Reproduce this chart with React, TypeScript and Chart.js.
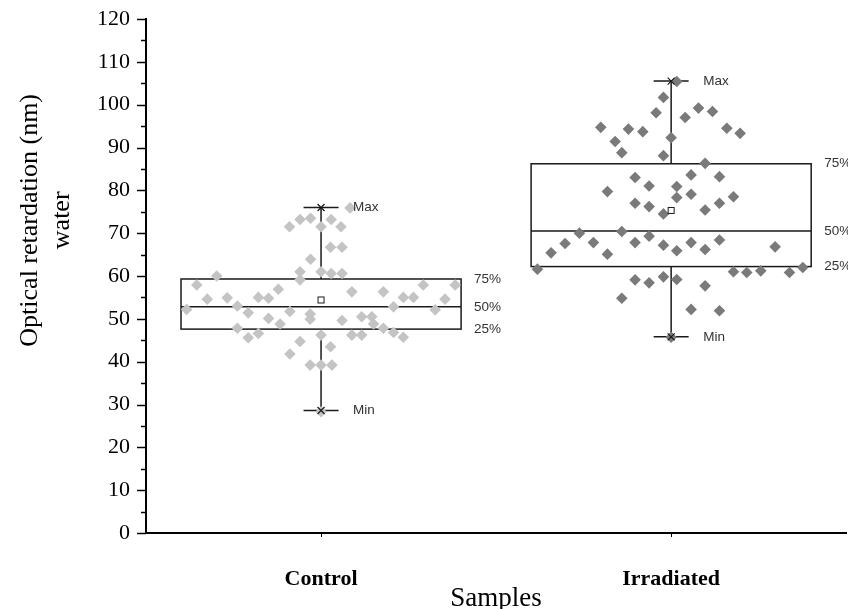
import React, { useEffect, useRef } from 'react';
import { Chart, registerables } from 'chart.js';

Chart.register(...registerables);

const categories = ['Control', 'Irradiated'];
const yTitleLines = ['Optical retardation (nm)', 'water'];
const xTitle = 'Samples';

const controlValues = [
  75.9, 71.5, 73.2, 73.5, 71.5, 73.2, 71.5, 66.7, 66.7, 63.9,
  61.0, 61.0, 60.6, 60.6, 59.1, 60.0, 57.9, 57.9, 57.9, 56.9,
  56.3, 56.3, 54.6, 54.9, 55.0, 54.8, 55.0, 55.0, 54.6, 52.2,
  53.0, 51.4, 51.7, 51.1, 52.8, 52.1, 50.1, 49.9, 48.8, 49.6,
  50.5, 50.5, 48.8, 47.8, 46.8, 45.7, 47.8, 45.6, 46.6, 46.2,
  46.2, 46.2, 44.7, 43.5, 41.8, 39.2, 39.2, 39.2, 28.3,
];
const controlJitter = [
  0.083, -0.090, -0.060, -0.030, 0.000, 0.029, 0.057, 0.027, 0.060, -0.030,
  -0.060, 0.000, 0.029, 0.060, -0.060, -0.298, -0.355, 0.383, 0.292, -0.122,
  0.088, 0.178, -0.325, -0.268, -0.179, -0.150, 0.235, 0.264, 0.354, -0.384,
  -0.239, -0.208, -0.089, -0.031, 0.207, 0.326, -0.150, -0.031, -0.117, 0.060,
  0.116, 0.145, 0.150, 0.178, 0.207, 0.235, -0.239, -0.208, -0.179, 0.088,
  0.116, 0.000, -0.060, 0.027, -0.089, -0.031, 0.000, 0.031, 0.000,
];

const irradiatedValues = [
  105.4, 101.7, 98.1, 97.0, 99.2, 98.4, 94.7, 94.3, 93.7, 94.5,
  93.3, 92.3, 91.4, 88.8, 88.1, 86.3, 83.6, 83.2, 83.0, 81.0,
  80.9, 79.7, 79.1, 78.3, 78.5, 77.0, 77.0, 76.2, 75.4, 74.5,
  70.0, 70.4, 67.6, 67.8, 67.8, 69.3, 67.2, 67.8, 68.4, 65.4,
  65.1, 65.9, 66.2, 66.8, 61.6, 61.0, 60.8, 61.2, 60.8, 62.0,
  59.1, 58.4, 59.8, 59.2, 57.7, 54.8, 52.2, 51.9, 45.7,
];
const irradiatedJitter = [
  0.016, -0.022, -0.043, 0.040, 0.078, 0.118, -0.201, -0.122, -0.081, 0.159,
  0.197, 0.000, -0.160, -0.141, -0.022, 0.097, 0.057, 0.138, -0.103, -0.063,
  0.016, -0.182, 0.057, 0.016, 0.178, -0.103, 0.138, -0.063, 0.097, -0.022,
  -0.262, -0.141, -0.303, -0.222, -0.103, -0.063, -0.022, 0.057, 0.138, -0.343,
  -0.182, 0.016, 0.097, 0.297, -0.382, 0.178, 0.216, 0.256, 0.338, 0.376,
  -0.103, -0.063, -0.022, 0.016, 0.097, -0.141, 0.057, 0.138, 0.000,
];

const boxMin = [28.6, 45.8];
const boxQ1 = [47.6, 62.2];
const boxMedian = [52.8, 70.5];
const boxQ3 = [59.3, 86.2];
const boxMax = [76.0, 105.5];
const boxMean = [54.4, 75.3];
const pointColors = ['rgb(196,196,196)', 'rgb(122,122,122)'];

const serif = '"Liberation Serif", "Times New Roman", serif';
const sans = '"Liberation Sans", Arial, sans-serif';

const boxPlugin = {
  id: 'boxPlot',
  beforeDatasetsDraw(chart: any) {
    const { ctx } = chart;
    const x = chart.scales.x;
    const y = chart.scales.y;
    ctx.save();
    ctx.strokeStyle = '#1a1a1a';
    ctx.lineWidth = 1.5;
    categories.forEach((_c, i) => {
      const cx = x.getPixelForValue(i);
      const hw = x.getPixelForValue(i + 0.4) - cx;
      const cw = x.getPixelForValue(i + 0.05) - cx;
      const p1 = y.getPixelForValue(boxQ1[i]);
      const p3 = y.getPixelForValue(boxQ3[i]);
      const pm = y.getPixelForValue(boxMedian[i]);
      const pmin = y.getPixelForValue(boxMin[i]);
      const pmax = y.getPixelForValue(boxMax[i]);
      ctx.strokeRect(cx - hw, p3, 2 * hw, p1 - p3);
      ctx.beginPath();
      ctx.moveTo(cx - hw, pm);
      ctx.lineTo(cx + hw, pm);
      ctx.moveTo(cx, p3);
      ctx.lineTo(cx, pmax);
      ctx.moveTo(cx, p1);
      ctx.lineTo(cx, pmin);
      ctx.moveTo(cx - cw, pmax);
      ctx.lineTo(cx + cw, pmax);
      ctx.moveTo(cx - cw, pmin);
      ctx.lineTo(cx + cw, pmin);
      ctx.stroke();
    });
    ctx.restore();
  },
  afterDatasetsDraw(chart: any) {
    const { ctx, chartArea } = chart;
    const x = chart.scales.x;
    const y = chart.scales.y;
    ctx.save();
    categories.forEach((_c, i) => {
      const cx = x.getPixelForValue(i);
      const hw = x.getPixelForValue(i + 0.4) - cx;
      const pmin = y.getPixelForValue(boxMin[i]);
      const pmax = y.getPixelForValue(boxMax[i]);
      const pmean = y.getPixelForValue(boxMean[i]);
      ctx.strokeStyle = '#1a1a1a';
      ctx.lineWidth = 1.2;
      [pmin, pmax].forEach((py) => {
        ctx.beginPath();
        ctx.moveTo(cx - 3.5, py - 3.5);
        ctx.lineTo(cx + 3.5, py + 3.5);
        ctx.moveTo(cx + 3.5, py - 3.5);
        ctx.lineTo(cx - 3.5, py + 3.5);
        ctx.stroke();
      });
      ctx.fillStyle = '#ffffff';
      ctx.lineWidth = 1;
      ctx.fillRect(cx - 3, pmean - 3, 6, 6);
      ctx.strokeRect(cx - 3, pmean - 3, 6, 6);
      ctx.fillStyle = '#333333';
      ctx.font = '13.5px ' + sans;
      ctx.textBaseline = 'middle';
      ctx.textAlign = 'left';
      ctx.fillText('Max', cx + 32, pmax);
      ctx.fillText('Min', cx + 32, pmin);
      ctx.fillText('75%', cx + hw + 13, y.getPixelForValue(boxQ3[i]));
      ctx.fillText('50%', cx + hw + 13, y.getPixelForValue(boxMedian[i]));
      ctx.fillText('25%', cx + hw + 13, y.getPixelForValue(boxQ1[i]));
    });
    ctx.strokeStyle = '#000';
    ctx.lineWidth = 1.5;
    for (let v = y.min; v <= y.max; v += 5) {
      const py = Math.round(y.getPixelForValue(v)) + 0.5;
      const len = v % 10 === 0 ? 9 : 5;
      ctx.beginPath();
      ctx.moveTo(chartArea.left - len, py);
      ctx.lineTo(chartArea.left, py);
      ctx.stroke();
    }
    ctx.fillStyle = '#000';
    ctx.font = '26px ' + serif;
    ctx.textAlign = 'center';
    ctx.textBaseline = 'middle';
    const cy = y.getPixelForValue(73);
    yTitleLines.forEach((line, k) => {
      ctx.save();
      ctx.translate(30 + k * 32, cy);
      ctx.rotate(-Math.PI / 2);
      ctx.fillText(line, 0, 0);
      ctx.restore();
    });
    ctx.restore();
  },
};

export default function App() {
  const ref = useRef<HTMLCanvasElement | null>(null);
  useEffect(() => {
    if (!ref.current) return;
    const datasets = [
      {
        label: categories[0],
        data: controlValues.map((v, k) => ({ x: 0 + controlJitter[k], y: v })),
        backgroundColor: pointColors[0],
      },
      {
        label: categories[1],
        data: irradiatedValues.map((v, k) => ({ x: 1 + irradiatedJitter[k], y: v })),
        backgroundColor: pointColors[1],
      },
    ].map((d) => ({
      ...d,
      pointStyle: 'rectRot',
      pointRadius: 5.8,
      pointBorderWidth: 0,
      borderWidth: 0,
      showLine: false,
    }));
    const chart = new Chart(ref.current, {
      type: 'scatter',
      data: { datasets },
      plugins: [boxPlugin],
      options: {
        animation: false,
        responsive: true,
        maintainAspectRatio: false,
        layout: { padding: { top: 19, right: 0, left: 0, bottom: 0 } },
        plugins: { legend: { display: false }, tooltip: { enabled: false } },
        scales: {
          x: {
            type: 'linear',
            min: -0.5,
            max: 1.5,
            afterBuildTicks: (scale: any) => {
              scale.ticks = categories.map((_c, i) => ({ value: i }));
            },
            afterFit: (scale: any) => {
              scale.height = 76;
              scale.paddingLeft = 0;
              scale.paddingRight = 0;
              scale.paddingTop = 0;
              scale.paddingBottom = 0;
            },
            grid: { display: true, drawOnChartArea: false, drawTicks: true, tickLength: 4, color: '#000', lineWidth: 1 },
            border: { display: true, color: '#000', width: 2 },
            ticks: {
              padding: 29,
              color: '#000',
              font: { family: serif, size: 22, weight: 'bold' },
              callback: (v: any) => categories[v] ?? '',
            },
            title: {
              display: true,
              text: xTitle,
              color: '#000',
              font: { family: serif, size: 27, lineHeight: 1 },
              padding: { top: 0, bottom: -3 },
            },
          },
          y: {
            type: 'linear',
            min: 0,
            max: 120,
            afterFit: (scale: any) => {
              scale.width = 146;
              scale.paddingLeft = 0;
              scale.paddingRight = 0;
              scale.paddingTop = 0;
              scale.paddingBottom = 0;
            },
            grid: { display: false, drawTicks: false },
            border: { display: true, color: '#000', width: 2 },
            ticks: {
              stepSize: 10,
              padding: 16,
              color: '#000',
              font: { family: serif, size: 22 },
            },
          },
        },
      } as any,
    });
    return () => chart.destroy();
  }, []);
  return (
    <div style={{ position: 'absolute', left: 0, top: 0, width: 848, height: 609, overflow: 'hidden', background: '#fff' }}>
      <div style={{ position: 'absolute', left: 0, top: 0, width: 852, height: 609 }}>
        <canvas ref={ref} />
      </div>
    </div>
  );
}
